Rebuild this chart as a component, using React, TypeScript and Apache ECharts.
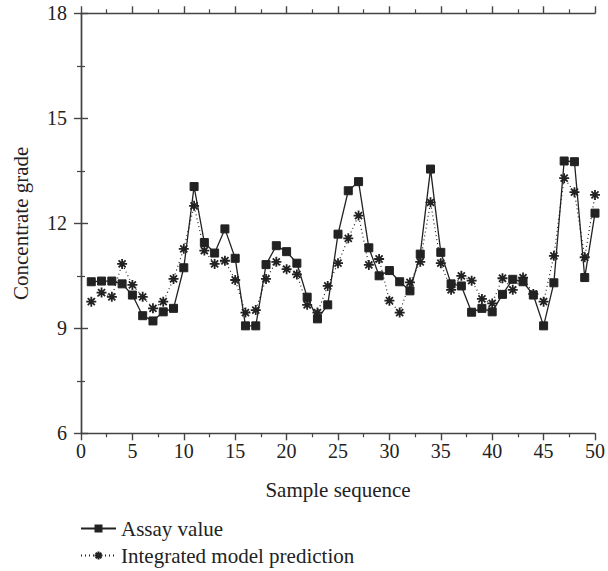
import React, { useEffect, useRef } from "react";
import * as echarts from "echarts";

const samples: number[] = Array.from({ length: 50 }, (_, i) => i + 1);
const assayValue: number[] = [
  10.33, 10.35, 10.35, 10.27, 9.95, 9.36, 9.21, 9.47, 9.57, 10.73,
  13.05, 11.45, 11.15, 11.84, 11.0, 9.07, 9.07, 10.82, 11.36, 11.19,
  10.86, 9.89, 9.27, 9.67, 11.69, 12.93, 13.19, 11.3, 10.5, 10.65,
  10.33, 10.07, 11.12, 13.55, 11.17, 10.27, 10.21, 9.46, 9.57, 9.47,
  9.97, 10.4, 10.33, 9.95, 9.07, 10.3, 13.78, 13.76, 10.45, 12.29,
];
const predicted: number[] = [
  9.76, 10.02, 9.9, 10.84, 10.24, 9.9, 9.57, 9.76, 10.41, 11.27,
  12.5, 11.22, 10.84, 10.93, 10.38, 9.45, 9.52, 10.41, 10.9, 10.69,
  10.54, 9.67, 9.45, 10.21, 10.86, 11.57, 12.22, 10.81, 10.98, 9.79,
  9.45, 10.31, 10.9, 12.6, 10.86, 10.1, 10.5, 10.36, 9.84, 9.71,
  10.43, 10.1, 10.45, 9.98, 9.76, 11.07, 13.29, 12.89, 11.03, 12.81,
];
const seriesNames: string[] = ["Assay value", "Integrated model prediction"];

const FONT = "Liberation Serif";
const STAR =
  "path://M0,-10L0,10M-10,0L10,0M-7.07,-7.07L7.07,7.07M-7.07,7.07L7.07,-7.07";
const INK = "#222";
const AXIS = "#444";

export default function App() {
  const ref = useRef<HTMLDivElement>(null);
  useEffect(() => {
    if (!ref.current) return;
    const chart = echarts.init(ref.current, null, { renderer: "svg" });
    const axisLine = { show: true, lineStyle: { color: AXIS, width: 1.4 } };
    const axisTick = { show: true, inside: false, length: 7, lineStyle: { color: AXIS, width: 1.4 } };
    const minorTick = { show: true, splitNumber: 2, length: 4, lineStyle: { color: AXIS, width: 1.2 } };
    const legendBase = {
      orient: "horizontal",
      left: 80,
      padding: 0,
      itemWidth: 35,
      itemHeight: 10,
      textStyle: { fontFamily: FONT, fontSize: 21, color: INK },
    };
    chart.setOption({
      animation: false,
      backgroundColor: "#fff",
      textStyle: { fontFamily: FONT },
      grid: { left: 81, right: 10.5, top: 13.3, bottom: 137.7, containLabel: false },
      legend: [
        { ...legendBase, top: 518, data: [seriesNames[0]] },
        { ...legendBase, top: 545, data: [seriesNames[1]] },
      ],
      xAxis: [
        {
          type: "value",
          min: 0,
          max: 50,
          interval: 5,
          position: "bottom",
          name: "Sample sequence",
          nameLocation: "middle",
          nameGap: 46,
          nameTextStyle: { fontFamily: FONT, fontSize: 21, color: INK },
          axisLine,
          axisTick,
          minorTick,
          splitLine: { show: false },
          axisLabel: { fontFamily: FONT, fontSize: 20, color: INK, margin: 8 },
        },
        {
          type: "value",
          min: 0,
          max: 50,
          interval: 5,
          position: "top",
          axisLine,
          axisTick,
          minorTick,
          splitLine: { show: false },
          axisLabel: { show: false },
        },
      ],
      yAxis: [
        {
          type: "value",
          min: 6,
          max: 18,
          interval: 3,
          position: "left",
          name: "Concentrate grade",
          nameLocation: "middle",
          nameGap: 50,
          nameTextStyle: { fontFamily: FONT, fontSize: 21, color: INK },
          axisLine,
          axisTick,
          minorTick,
          splitLine: { show: false },
          axisLabel: { fontFamily: FONT, fontSize: 20, color: INK, margin: 14 },
        },
        {
          type: "value",
          min: 6,
          max: 18,
          interval: 3,
          position: "right",
          axisLine,
          axisTick,
          minorTick,
          splitLine: { show: false },
          axisLabel: { show: false },
        },
      ],
      series: [
        {
          name: seriesNames[1],
          type: "line",
          data: samples.map((s, i) => [s, predicted[i]]),
          symbol: STAR,
          symbolSize: 10,
          lineStyle: { color: INK, width: 1.2, type: [1, 3] },
          itemStyle: { color: "rgba(0,0,0,0)", borderColor: INK, borderWidth: 1.8 },
          z: 2,
        },
        {
          name: seriesNames[0],
          type: "line",
          data: samples.map((s, i) => [s, assayValue[i]]),
          symbol: "rect",
          symbolSize: 8,
          lineStyle: { color: INK, width: 1.3, type: "solid" },
          itemStyle: { color: INK, borderColor: INK },
          z: 3,
        },
      ],
    });
    return () => chart.dispose();
  }, []);
  return (
    <div
      ref={ref}
      style={{ position: "fixed", left: 0, top: 0, width: 608, height: 571 }}
    />
  );
}
